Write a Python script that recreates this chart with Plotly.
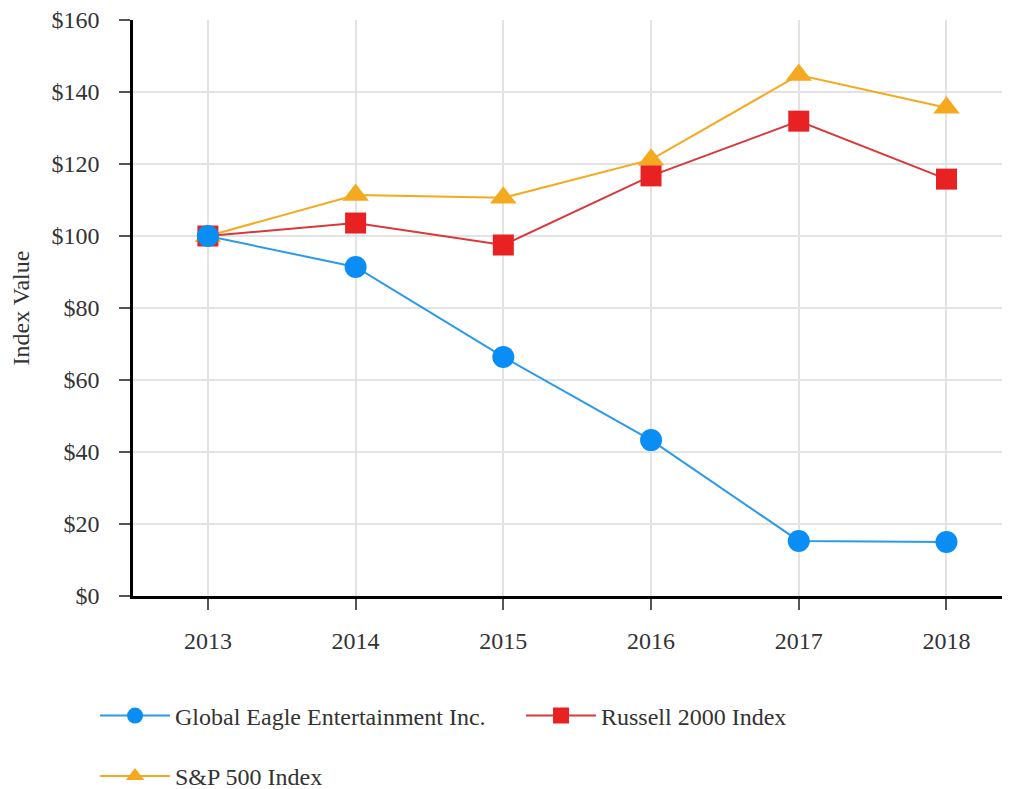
import plotly.graph_objects as go

years = [2013, 2014, 2015, 2016, 2017, 2018]
gee = [100.0, 91.4, 66.4, 43.3, 15.3, 15.0]
russell = [100.0, 103.6, 97.5, 116.7, 131.9, 115.8]
sp500 = [100.0, 111.4, 110.6, 121.2, 144.7, 135.6]
y_ticks = [0, 20, 40, 60, 80, 100, 120, 140, 160]
y_tick_labels = ["$0", "$20", "$40", "$60", "$80", "$100", "$120", "$140", "$160"]
x_tick_labels = ["2013", "2014", "2015", "2016", "2017", "2018"]

FONT = "Liberation Serif"
TXT = "#333333"

fig = go.Figure()
fig.add_trace(go.Scatter(
    x=years, y=sp500, name="S&P 500 Index", mode="lines+markers",
    line=dict(color="#f5a91f", width=2),
    marker=dict(symbol="triangle-up", size=23, color="#f5a91f"),
    legend="legend2",
))
fig.add_trace(go.Scatter(
    x=years, y=russell, name="Russell 2000 Index", mode="lines+markers",
    line=dict(color="#d9383a", width=2),
    marker=dict(symbol="square", size=21, color="#e82222"),
    legendrank=2,
))
fig.add_trace(go.Scatter(
    x=years, y=gee, name="Global Eagle Entertainment Inc.", mode="lines+markers",
    line=dict(color="#2a9be9", width=2),
    marker=dict(symbol="circle", size=22, color="#0a8ef5"),
    legendrank=1,
))

fig.update_layout(
    width=1002, height=781,
    margin=dict(l=125, r=0, t=12, b=193, autoexpand=False),
    paper_bgcolor="white", plot_bgcolor="white",
    font=dict(family=FONT, size=24, color=TXT),
    showlegend=True,
    legend=dict(
        orientation="h", x=-0.0433, xanchor="left", y=-0.2083, yanchor="middle",
        font=dict(family=FONT, size=24, color=TXT),
        itemwidth=70, entrywidth=341, traceorder="normal", bgcolor="rgba(0,0,0,0)",
    ),
    legend2=dict(
        orientation="h", x=-0.0433, xanchor="left", y=-0.3134, yanchor="middle",
        font=dict(family=FONT, size=24, color=TXT),
        itemwidth=70, bgcolor="rgba(0,0,0,0)",
    ),
)

fig.update_xaxes(
    range=[2012.493, 2018.43], tickvals=years, ticktext=x_tick_labels,
    showgrid=True, gridcolor="#e3e3e3", gridwidth=1.5,
    showline=True, linecolor="black", linewidth=2.5,
    ticks="outside", ticklen=11, tickwidth=1.5, tickcolor="#555555",
    ticklabelstandoff=10, zeroline=False, ticklabeloverflow="allow",
    tickfont=dict(family=FONT, size=24, color=TXT),
)
fig.update_yaxes(
    range=[0, 160], tickvals=y_ticks, ticktext=y_tick_labels,
    showgrid=True, gridcolor="#e3e3e3", gridwidth=1.5,
    showline=True, linecolor="black", linewidth=2.5,
    ticks="outside", ticklen=11, tickwidth=1.5, tickcolor="#555555",
    ticklabelstandoff=15, zeroline=False, ticklabeloverflow="allow",
    tickfont=dict(family=FONT, size=24, color=TXT),
    title=dict(text="Index Value", font=dict(family=FONT, size=24, color=TXT), standoff=17),
)

fig.write_html("out.html")
